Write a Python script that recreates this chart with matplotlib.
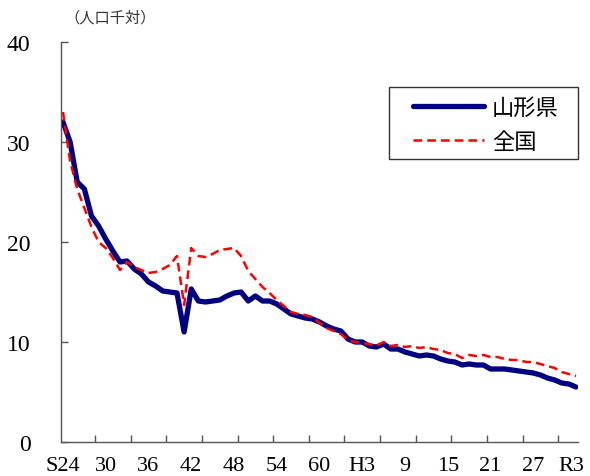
import matplotlib
matplotlib.use("Agg")
import matplotlib.pyplot as plt
from matplotlib.patches import Rectangle
import matplotlib.transforms as mtransforms
import numpy as np

years = list(range(1949, 2022))

yamagata = [
    32.0, 30.0, 26.0, 25.3, 22.6, 21.6, 20.3, 19.1, 18.0, 18.1,
    17.3, 16.8, 16.0, 15.6, 15.1, 15.0, 14.9, 11.0, 15.3, 14.1,
    14.0, 14.1, 14.2, 14.6, 14.9, 15.0, 14.1, 14.6, 14.1, 14.1,
    13.8, 13.3, 12.8, 12.6, 12.4, 12.3, 12.0, 11.6, 11.3, 11.1,
    10.3, 10.0, 10.0, 9.6, 9.5, 9.8, 9.3, 9.3, 9.0, 8.8,
    8.6, 8.7, 8.6, 8.3, 8.1, 8.0, 7.7, 7.8, 7.7, 7.7,
    7.3, 7.3, 7.3, 7.2, 7.1, 7.0, 6.9, 6.7, 6.4, 6.2,
    5.9, 5.8, 5.5,
]

national = [
    33.0, 28.1, 25.3, 23.4, 21.5, 20.0, 19.4, 18.4, 17.2, 18.0,
    17.5, 17.2, 16.9, 17.0, 17.3, 17.7, 18.6, 13.7, 19.4, 18.6,
    18.5, 18.8, 19.2, 19.3, 19.4, 18.6, 17.1, 16.3, 15.5, 14.9,
    14.2, 13.6, 13.0, 12.8, 12.7, 12.5, 11.9, 11.4, 11.1, 10.8,
    10.2, 10.0, 9.9, 9.8, 9.6, 10.0, 9.6, 9.7, 9.5, 9.6,
    9.4, 9.5, 9.3, 9.2, 8.9, 8.8, 8.4, 8.7, 8.6, 8.7,
    8.5, 8.5, 8.3, 8.2, 8.2, 8.0, 8.0, 7.8, 7.6, 7.4,
    7.0, 6.8, 6.6,
]

label_years = [1949, 1955, 1961, 1967, 1973, 1979, 1985, 1991, 1997, 2003, 2009, 2015, 2021]
label_texts = ["S24", "30", "36", "42", "48", "54", "60", "H3", "9", "15", "21", "27", "R3"]
series_names = ["山形県", "全国"]
y_unit = "（人口千対）"

serif = "Liberation Serif"
cjk = ["Noto Sans CJK JP", "DejaVu Sans"]

W, H = 590, 477
fig = plt.figure(figsize=(W/100, H/100), dpi=100)
ax = fig.add_axes([61/W, 1-443/H, (578-61)/W, (443-43)/H])

ax.plot(years, yamagata, color="#000080", lw=3.8, solid_capstyle="round",
        solid_joinstyle="round", label=series_names[0], zorder=2)
ax.plot(years, national, color="#ff0000", lw=1.8, dashes=(3.5, 2),
        label=series_names[1], zorder=3)

ax.set_xlim(1948.72, 2021.28)
ax.set_ylim(0, 40)

for s in ["top", "right"]:
    ax.spines[s].set_visible(False)
for s in ["left", "bottom"]:
    ax.spines[s].set_color("#555555")
    ax.spines[s].set_linewidth(1.0)

ax.set_yticks([0, 10, 20, 30, 40])
ax.set_yticklabels(["0", "10", "20", "30", "40"], fontfamily=serif, fontsize=17)
ax.tick_params(axis="y", direction="in", length=5, width=1, color="#555555", pad=22)

ax.set_xticks(label_years)
ax.set_xticklabels(label_texts, fontfamily=serif, fontsize=16)
ax.set_xticks(np.arange(1953.5, 2021, 5), minor=True)
ax.tick_params(axis="x", which="major", length=0, pad=10)
ax.tick_params(axis="x", which="minor", direction="in", length=5, width=1, color="#555555")
# shift last label slightly left like the reference
last = ax.get_xticklabels()[-1]
last.set_transform(last.get_transform() +
                   mtransforms.ScaledTranslation(-5/100, 0, fig.dpi_scale_trans))

fig.text(110/W, 1-18/H, y_unit, fontfamily=cjk, fontsize=11, color="#333333",
         ha="center", va="center")

# legend frame
fig.patches.append(Rectangle((389/W, 1-160/H), (578-389)/W, (160-88)/H,
                             transform=fig.transFigure, fill=False,
                             edgecolor="#333333", linewidth=1.0, zorder=5))
leg = ax.legend(loc="upper left", bbox_to_anchor=(404/W, 1-88/H),
                bbox_transform=fig.transFigure, prop={"family": cjk, "size": 16},
                frameon=False, handlelength=3.2, handletextpad=0.35,
                labelspacing=0.5, borderpad=0.4, borderaxespad=0)

fig.savefig("out.png", dpi=100)
